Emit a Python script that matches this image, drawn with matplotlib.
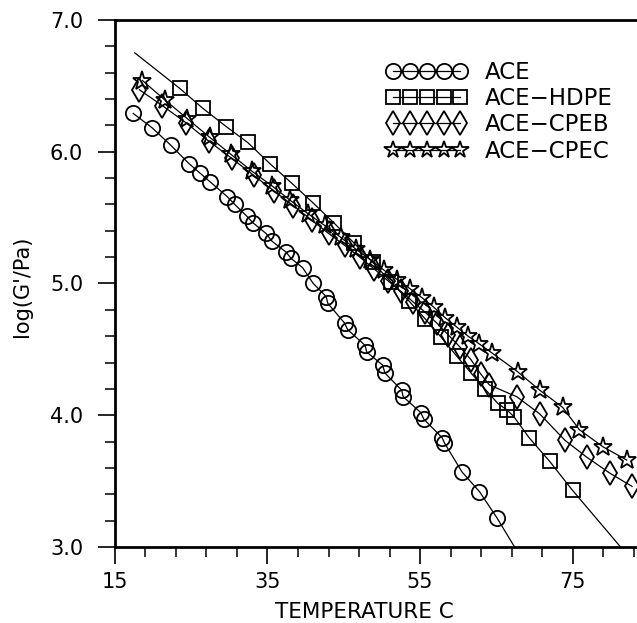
import matplotlib
matplotlib.use('Agg')
import matplotlib.pyplot as plt
import numpy as np
from matplotlib.ticker import MultipleLocator

# storage modulus vs temperature for the blends
ace_t = [17.4, 19.9, 22.3, 24.7, 26.1, 27.5, 29.7, 30.7, 32.3, 33.1, 34.8, 35.6,
         37.4, 38.1, 39.6, 41.0, 42.7, 42.9, 45.1, 45.5, 47.8, 48.0, 50.1, 50.4,
         52.6, 52.8, 55.1, 55.5, 57.9, 58.2, 60.5, 62.8, 65.1]
ace_g = [6.29, 6.18, 6.05, 5.91, 5.84, 5.77, 5.66, 5.60, 5.51, 5.46, 5.38, 5.32,
         5.24, 5.19, 5.12, 5.00, 4.90, 4.85, 4.70, 4.65, 4.53, 4.48, 4.38, 4.32,
         4.19, 4.14, 4.02, 3.97, 3.83, 3.79, 3.57, 3.42, 3.22]

hdpe_t = [23.5, 26.5, 29.6, 32.4, 35.3, 38.2, 41.0, 43.7, 46.3, 48.8, 51.2, 53.5,
          55.7, 57.8, 59.8, 61.7, 63.5, 65.2, 66.4, 67.3, 69.3, 72.0, 75.0]
hdpe_g = [6.48, 6.33, 6.19, 6.07, 5.91, 5.76, 5.61, 5.46, 5.31, 5.16, 5.01, 4.87,
          4.73, 4.59, 4.45, 4.32, 4.20, 4.09, 4.04, 3.99, 3.83, 3.65, 3.43]

cpeb_t = [18.2, 21.2, 24.3, 27.3, 30.3, 33.2, 35.9, 38.4, 40.8, 43.0, 45.1, 47.1,
          49.0, 50.8, 52.5, 54.1, 55.7, 57.2, 58.7, 60.2, 61.7, 63.0, 64.1, 67.7,
          70.7, 74.0, 76.9, 79.9, 82.8]
cpeb_g = [6.47, 6.35, 6.22, 6.08, 5.95, 5.82, 5.70, 5.59, 5.48, 5.38, 5.29, 5.20,
          5.11, 5.02, 4.94, 4.86, 4.78, 4.70, 4.61, 4.52, 4.42, 4.31, 4.23, 4.14,
          4.01, 3.81, 3.68, 3.56, 3.46]

cpec_t = [18.6, 21.6, 24.5, 27.4, 30.2, 33.0, 35.6, 38.0, 40.3, 42.5, 44.6, 46.6,
          48.5, 50.3, 52.0, 53.7, 55.3, 56.8, 58.3, 59.8, 61.3, 62.8, 64.5, 67.8,
          70.7, 73.7, 75.9, 79.0, 82.1]
cpec_g = [6.54, 6.39, 6.25, 6.11, 5.98, 5.85, 5.74, 5.63, 5.53, 5.44, 5.35, 5.26,
          5.18, 5.10, 5.03, 4.96, 4.89, 4.82, 4.74, 4.67, 4.60, 4.54, 4.47, 4.33,
          4.19, 4.06, 3.89, 3.76, 3.66]

# fitted curves run a little past the measured points
ace_fit_t = ace_t + [67.4]
ace_fit_g = ace_g + [3.0]
hdpe_fit_t = [17.6] + hdpe_t + [81.3]
hdpe_fit_g = [6.75] + hdpe_g + [3.0]

labels = ['ACE', 'ACE\u2212HDPE', 'ACE\u2212CPEB', 'ACE\u2212CPEC']
x_ticks = [15, 35, 55, 75]

fig = plt.figure(figsize=(6.37, 6.23), dpi=100)
ax = fig.add_axes([0.1805, 0.122, 0.838, 0.846])

edge = dict(fillstyle='none', markeredgecolor='black', markeredgewidth=1.3,
            color='black')

ax.plot(ace_fit_t, ace_fit_g, color='black', linewidth=0.9)
ax.plot(hdpe_fit_t, hdpe_fit_g, color='black', linewidth=0.9)
ax.plot(ace_t, ace_g, marker='o', markersize=11, linestyle='none', **edge)
ax.plot(hdpe_t, hdpe_g, marker='s', markersize=9.5, linestyle='none', **edge)
ax.plot(cpeb_t, cpeb_g, marker='d', markersize=12, linewidth=0.9, **edge)
ax.plot(cpec_t, cpec_g, marker='*', markersize=14, linewidth=0.9, **edge)

# legend handles: a row of touching markers
h_ace, = ax.plot([], [], marker='o', markersize=11, linewidth=0.9, **edge)
h_hdpe, = ax.plot([], [], marker='s', markersize=10, linewidth=0.9, **edge)
h_cpeb, = ax.plot([], [], marker='d', markersize=12, linewidth=0.9, **edge)
h_cpec, = ax.plot([], [], marker='*', markersize=13, linewidth=0.9, **edge)
leg = ax.legend([h_ace, h_hdpe, h_cpeb, h_cpec], labels, numpoints=5,
                frameon=False, fontsize=16.5, handlelength=3.55, handletextpad=0.75,
                labelspacing=0.14, loc='upper left',
                bbox_to_anchor=(386 / 637, 1 - 61 / 623),
                bbox_transform=fig.transFigure, borderaxespad=0, borderpad=0)

ax.set_xlim(15, 85)
ax.set_ylim(3.0, 7.0)
ax.set_xticks(x_ticks)
ax.set_xticks(np.arange(15, 86, 4), minor=True)
ax.yaxis.set_major_locator(MultipleLocator(1.0))
ax.yaxis.set_minor_locator(MultipleLocator(0.2))
ax.yaxis.set_major_formatter(plt.FormatStrFormatter('%.1f'))

ax.tick_params(which='major', direction='out', length=12, width=1.2,
               labelsize=15)
ax.tick_params(axis='x', which='major', pad=6)
ax.tick_params(axis='y', which='major', pad=11)
ax.tick_params(which='minor', direction='out', length=7, width=1.1)
ax.tick_params(top=False, right=False)

for side in ['left', 'bottom', 'top']:
    ax.spines[side].set_linewidth(2.0)
ax.spines['right'].set_visible(False)

ax.set_xlabel('TEMPERATURE C', fontsize=15.5)
ax.xaxis.set_label_coords(0.468, -0.105)
ax.set_ylabel("log(G'/Pa)", fontsize=15)
ax.yaxis.set_label_coords(-0.155, 0.495)

fig.savefig('out.png', dpi=100)
